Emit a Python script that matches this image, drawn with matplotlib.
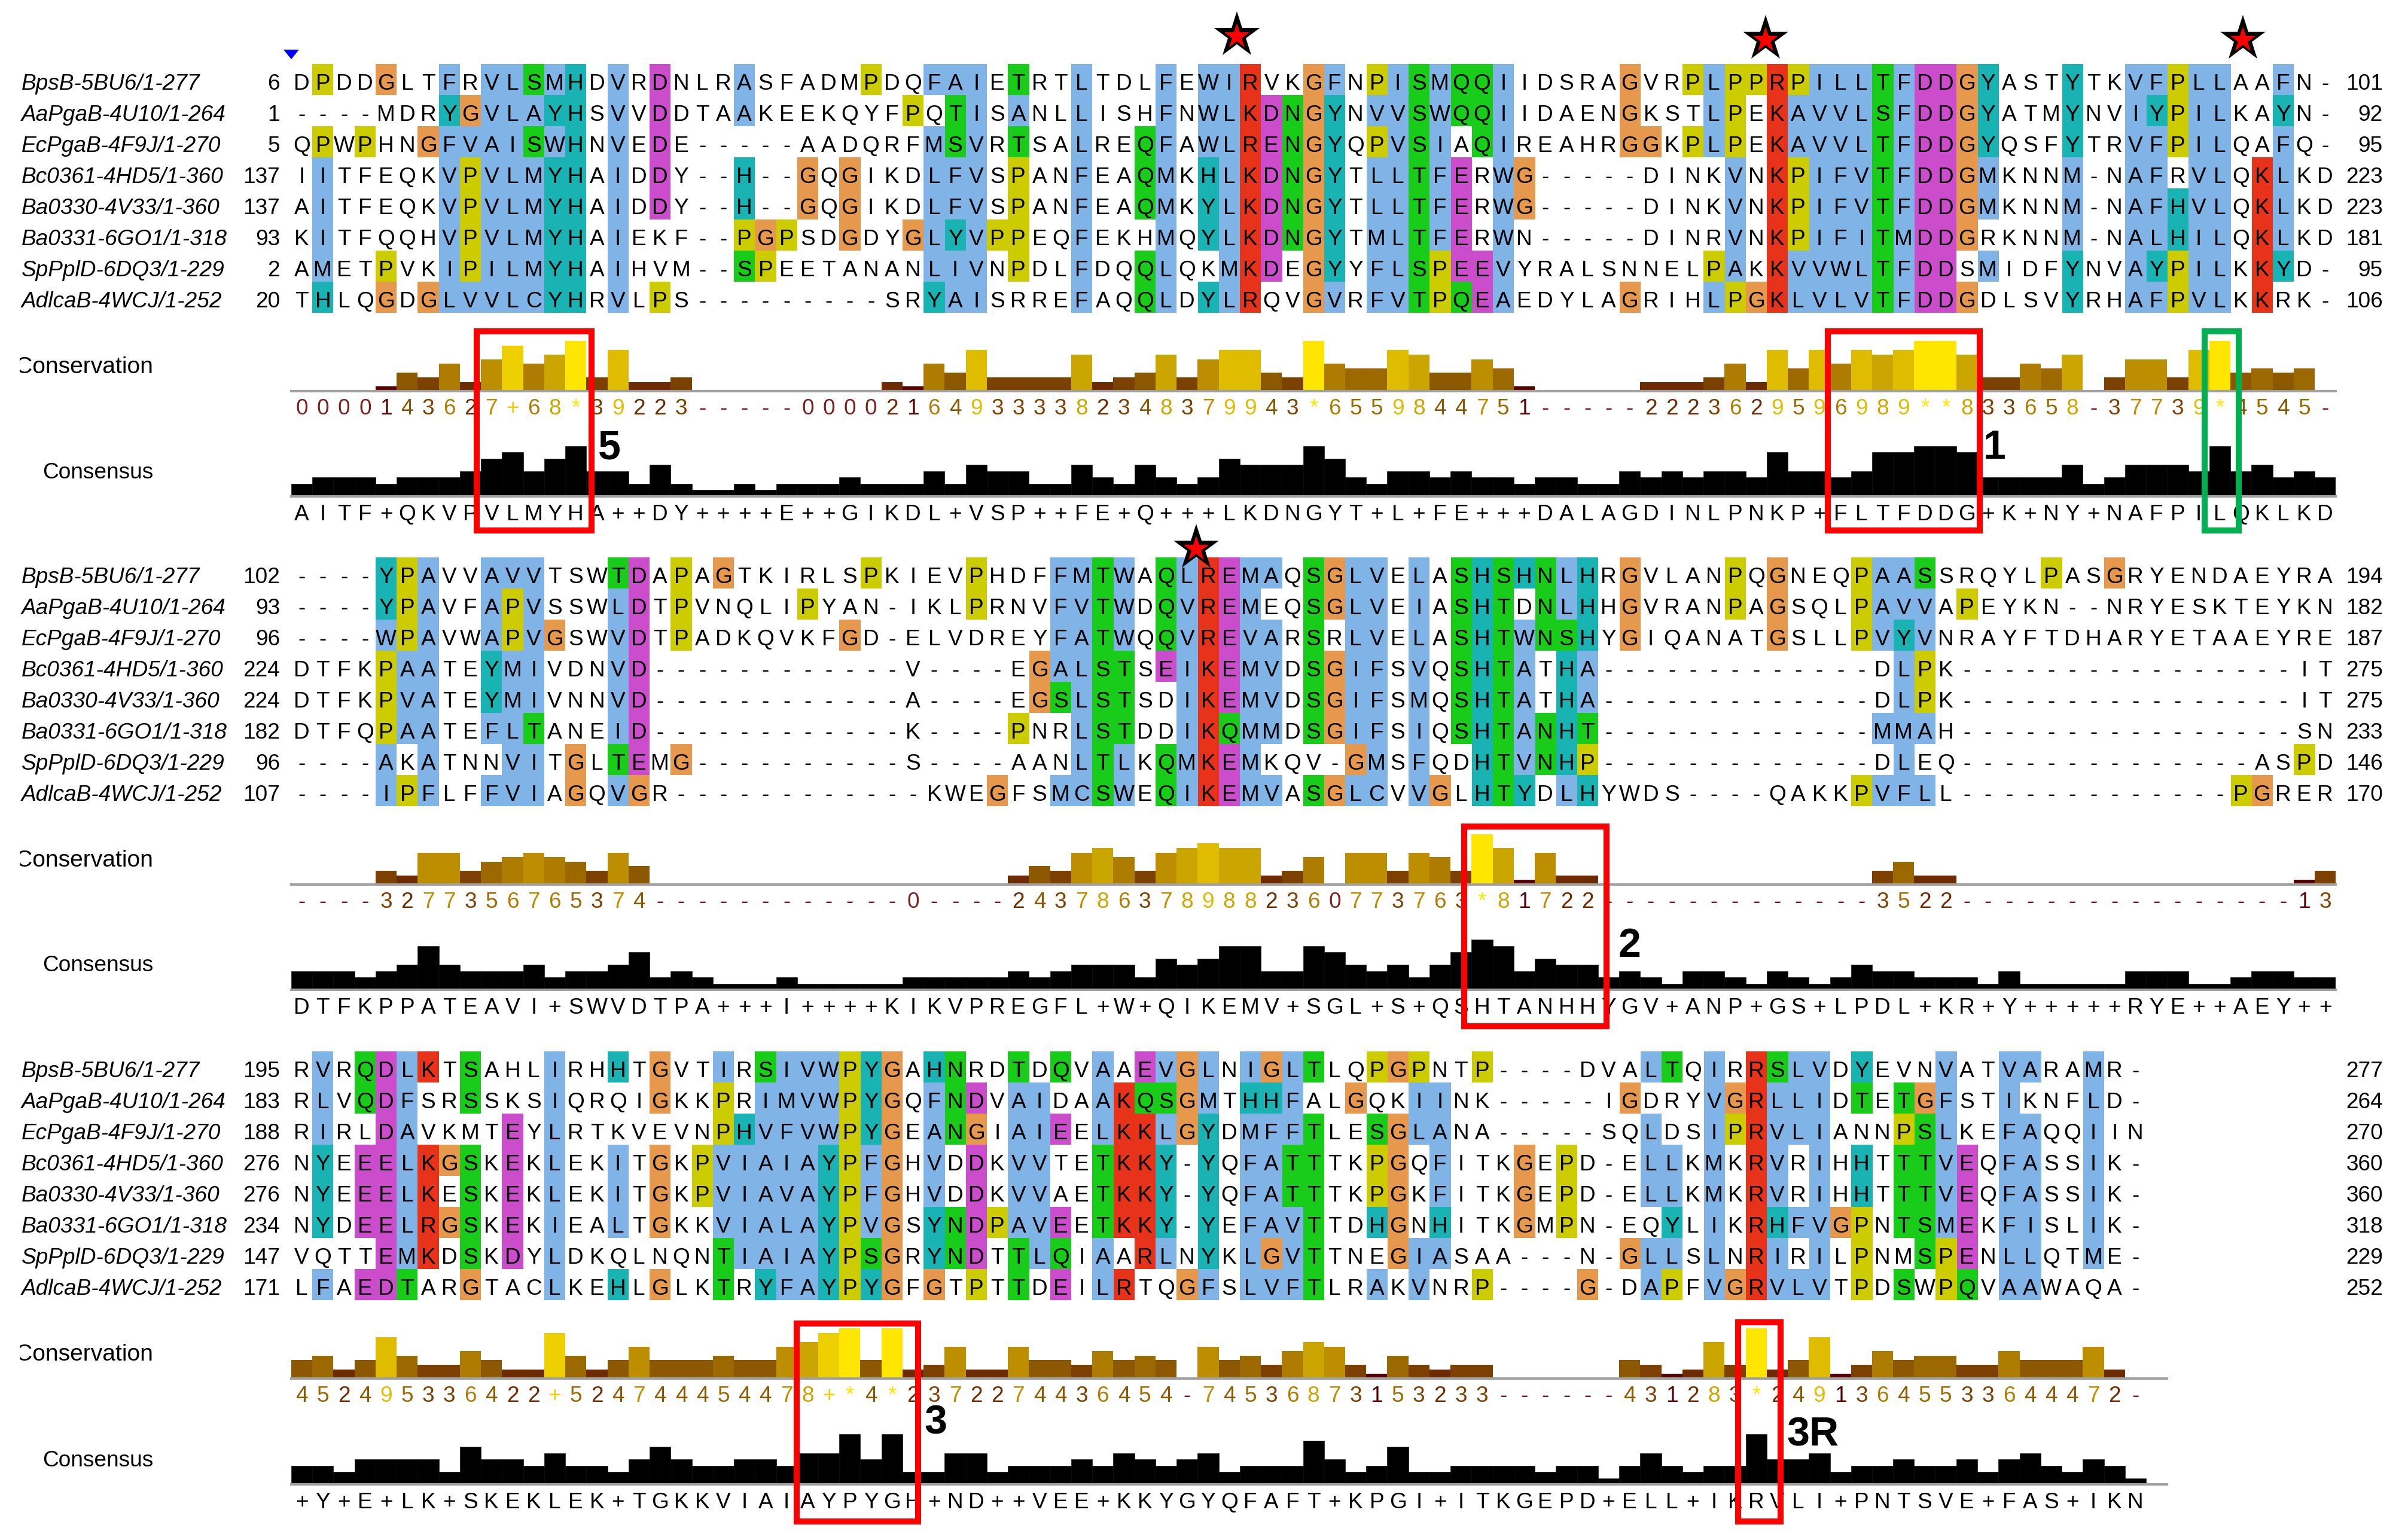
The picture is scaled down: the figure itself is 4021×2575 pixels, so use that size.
import matplotlib
matplotlib.use("Agg")
import matplotlib.pyplot as plt
from matplotlib.patches import Rectangle
import numpy as np

W, H = 4021, 2575

names = ["BpsB-5BU6/1-277", "AaPgaB-4U10/1-264", "EcPgaB-4F9J/1-270", "Bc0361-4HD5/1-360",
         "Ba0330-4V33/1-360", "Ba0331-6GO1/1-318", "SpPplD-6DQ3/1-229", "AdlcaB-4WCJ/1-252"]

# first alignment block
seqs_1 = [
    "DPDDGLTFRVLSMHDVRDNLRASFADMPDQFAIETRTLTDLFEWIRVKGFNPISMQQIIDSRAGVRPLPPRPILLTFDDGYASTYTKVFPLLAAFN-",
    "----MDRYGVLAYHSVVDDTAAKEEKQYFPQTISANLLISHFNWLKDNGYNVVSWQQIIDAENGKSTLPEKAVVLSFDDGYATMYNVIYPILKAYN-",
    "QPWPHNGFVAISWHNVEDE-----AADQRFMSVRTSALREQFAWLRENGYQPVSIAQIREAHRGGKPLPEKAVVLTFDDGYQSFYTRVFPILQAFQ-",
    "IITFEQKVPVLMYHAIDDY--H--GQGIKDLFVSPANFEAQMKHLKDNGYTLLTFERWG-----DINKVNKPIFVTFDDGMKNNM-NAFRVLQKLKD",
    "AITFEQKVPVLMYHAIDDY--H--GQGIKDLFVSPANFEAQMKYLKDNGYTLLTFERWG-----DINKVNKPIFVTFDDGMKNNM-NAFHVLQKLKD",
    "KITFQQHVPVLMYHAIEKF--PGPSDGDYGLYVPPEQFEKHMQYLKDNGYTMLTFERWN-----DINRVNKPIFITMDDGRKNNM-NALHILQKLKD",
    "AMETPVKIPILMYHAIHVM--SPEETANANLIVNPDLFDQQLQKMKDEGYYFLSPEEVYRALSNNELPAKKVVWLTFDDSMIDFYNVAYPILKKYD-",
    "THLQGDGLVVLCYHRVLPS---------SRYAISRREFAQQLDYLRQVGVRFVTPQEAEDYLAGRIHLPGKLVLVTFDDGDLSVYRHAFPVLKKRK-",
]
starts_1 = [6, 1, 5, 137, 137, 93, 2, 20]
ends_1 = [101, 92, 95, 223, 223, 181, 95, 106]
conservation_1 = "0000143627+68*39223-----000021649333382348379943*6559844751-----2223629596989**833658-37739*4545-"
consensus_1 = "AITF+QKVPVLMYHA++DY++++E++GIKDL+VSP++FE+Q+++LKDNGYT+L+FE+++DALAGDINLPNKP+FLTFDDG+K+NY+NAFPILQKLKD"

# second alignment block
seqs_2 = [
    "----YPAVVAVVTSWTDAPAGTKIRLSPKIEVPHDFFMTWAQLREMAQSGLVELASHSHNLHRGVLANPQGNEQPAASSRQYLPASGRYENDAEYRA",
    "----YPAVFAPVSSWLDTPVNQLIPYAN-IKLPRNVFVTWDQVREMEQSGLVEIASHTDNLHHGVRANPAGSQLPAVVAPEYKN--NRYESKTEYKN",
    "----WPAVWAPVGSWVDTPADKQVKFGD-ELVDREYFATWQQVREVARSRLVELASHTWNSHYGIQANATGSLLPVYVNRAYFTDHARYETAAEYRE",
    "DTFKPAATEYMIVDNVD------------V----EGALSTSEIKEMVDSGIFSVQSHTATHA-------------DLPK----------------IT",
    "DTFKPVATEYMIVNNVD------------A----EGSLSTSDIKEMVDSGIFSMQSHTATHA-------------DLPK----------------IT",
    "DTFQPAATEFLTANEID------------K----PNRLSTDDIKQMMDSGIFSIQSHTANHT-------------MMAH----------------SN",
    "----AKATNNVITGLTEMG----------S----AANLTLKQMKEMKQV-GMSFQDHTVNHP-------------DLEQ--------------ASPD",
    "----IPFLFFVIAGQVGR------------KWEGFSMCSWEQIKEMVASGLCVVGLHTYDLHYWDS----QAKKPVFLL-------------PGRER",
]
starts_2 = [102, 93, 96, 224, 224, 182, 96, 107]
ends_2 = [194, 182, 187, 275, 275, 233, 146, 170]
conservation_2 = "----3277356765374------------0----2437863789882360773763*81722-------------3522----------------13"
consensus_2 = "DTFKPPATEAVI+SWVDTPA+++I++++KIKVPREGFL+W+QIKEMV+SGL+S+QSHTANHHYGV+ANP+GS+LPDL+KR+Y+++++RYE++AEY++"

# third alignment block
seqs_3 = [
    "RVRQDLKTSAHLIRHHTGVTIRSIVWPYGAHNRDTDQVAAEVGLNIGLTLQPGPNTP----DVALTQIRRSLVDYEVNVATVARAMR-",
    "RLVQDFSRSSKSIQRQIGKKPRIMVWPYGQFNDVAIDAAKQSGMTHHFALGQKIINK-----IGDRYVGRLLIDTETGFSTIKNFLD-",
    "RIRLDAVKMTEYLRTKVEVNPHVFVWPYGEANGIAIEELKKLGYDMFFTLESGLANA-----SQLDSIPRVLIANNPSLKEFAQQIIN",
    "NYEEELKGSKEKLEKITGKPVIAIAYPFGHVDDKVVTETKKY-YQFATTTKPGQFITKGEPD-ELLKMKRVRIHHTTTVEQFASSIK-",
    "NYEEELKESKEKLEKITGKPVIAVAYPFGHVDDKVVAETKKY-YQFATTTKPGKFITKGEPD-ELLKMKRVRIHHTTTVEQFASSIK-",
    "NYDEELRGSKEKIEALTGKKVIALAYPVGSYNDPAVEETKKY-YEFAVTTDHGNHITKGMPN-EQYLIKRHFVGPNTSMEKFISLIK-",
    "VQTTEMKDSKDYLDKQLNQNTIAIAYPSGRYNDTTLQIAARLNYKLGVTTNEGIASAA---N-GLLSLNRIRILPNMSPENLLQTME-",
    "LFAEDTARGTACLKEHLGLKTRYFAYPYGFGTPTTDEILRTQGFSLVFTLRAKVNRP----G-DAPFVGRVLVTPDSWPQVAAWAQA-",
]
starts_3 = [195, 183, 188, 276, 276, 234, 147, 171]
ends_3 = [277, 264, 270, 360, 360, 318, 229, 252]
conservation_3 = "452495336422+524744454478+*4*2372274436454-74536873153233------431283*24913645533644472-"
consensus_3 = "+Y+E+LK+SKEKLEK+TGKKVIAIAYPYGH+ND++VEE+KKYGYQFAFT+KPGI+ITKGEPD+ELL+IKRVLI+PNTSVE+FAS+IKN"

blocks = [
    (seqs_1, starts_1, ends_1, conservation_1, consensus_1, 107, 654, 830),
    (seqs_2, starts_2, ends_2, conservation_2, consensus_2, 932, 1479, 1655),
    (seqs_3, starts_3, ends_3, conservation_3, consensus_3, 1758, 2305, 2482),
]

# sequence logic for the ClustalX style colours
BLUE, RED, GREEN = "#80b3e6", "#e6331a", "#1acc1a"
MAGENTA, ORANGE, YELLOW, CYAN = "#cc4dcc", "#e6994d", "#cccc00", "#1ab3b3"
HYDRO = "WLVIMAFCHPY"

CONS_COLOURS = ["#7a2020", "#5a0000", "#6e2a00", "#7c4000", "#8c5800", "#9c6800",
                "#ad7c00", "#bc8e00", "#cca600", "#dfbc00", "#eed000", "#ffe600"]

FONT = "Liberation Sans"
LETTER_PX = 37
CW = 35.24
X0 = 487
ROW = 52


def cell_colour(ch, col):
    def f(group):
        return sum(c in group for c in col) / len(col)

    def single(group):
        # any one of these residues alone above 85%
        return any(col.count(a) / len(col) > 0.85 for a in group)

    if ch == "G":
        return ORANGE
    if ch == "P":
        return YELLOW
    if ch in "AILMFWVC":
        return BLUE if f(HYDRO) > 0.6 else None
    if ch in "HY":
        return CYAN if f(HYDRO) > 0.6 or single("WYACPQFHILMV") else None
    if ch in "KR":
        return RED if f("KR") > 0.6 or single("KRQ") else None
    if ch == "N":
        return GREEN if f("N") > 0.5 or f("D") > 0.85 else None
    if ch == "D":
        return MAGENTA if f("KR") > 0.6 or single("KRQ") or f("ED") > 0.5 else None
    if ch == "E":
        return MAGENTA if f("KR") > 0.6 or f("QE") > 0.5 or f("ED") > 0.5 or single("EQD") else None
    if ch == "Q":
        return GREEN if f("KR") > 0.6 or f("QE") > 0.5 or single("QEKR") else None
    if ch in "ST":
        return GREEN if f(HYDRO) > 0.6 or f("TS") > 0.5 or single("ST") else None
    return None


def score(ch):
    if ch == "*":
        return 11
    if ch == "+":
        return 10
    if ch == "-":
        return 0
    return int(ch)


def px_axes(x0, y0, x1, y1):
    ax = fig.add_axes([x0 / W, 1 - y1 / H, (x1 - x0) / W, (y1 - y0) / H])
    ax.axis("off")
    return ax


def letter_row(string, baseline, colours=None):
    # one line of letters under a panel
    n = len(string)
    ax = px_axes(X0, baseline - 40, X0 + n * CW, baseline + 10)
    ax.set_xlim(0, n)
    ax.set_ylim(50, 0)
    for i, ch in enumerate(string):
        c = "black" if colours is None else colours[i]
        ax.text(i + 0.5, 40, ch, ha="center", va="baseline", color=c,
                fontsize=LETTER_PX * 0.72, family=FONT)


fig = plt.figure(figsize=(W / 100, H / 100), dpi=100, facecolor="white")

for seqs, starts, ends, conservation, consensus, top, cons_base, cs_base in blocks:
    n = len(seqs[0])
    cols = ["".join(s[j] for s in seqs) for j in range(n)]

    # coloured cells
    rgb = np.ones((8, n, 3))
    for r, s in enumerate(seqs):
        for j, ch in enumerate(s):
            c = cell_colour(ch, cols[j])
            if c:
                rgb[r, j] = matplotlib.colors.to_rgb(c)
    ax = px_axes(X0, top, X0 + n * CW, top + 8 * ROW)
    ax.imshow(rgb, extent=[0, n, 8, 0], aspect="auto", interpolation="nearest")
    for r, s in enumerate(seqs):
        for j, ch in enumerate(s):
            ax.text(j + 0.5, r + 0.83, ch, ha="center", va="baseline", color="black",
                    fontsize=LETTER_PX * 0.72, family=FONT)

    # conservation histogram
    scores = [score(ch) for ch in conservation]
    colours = [CONS_COLOURS[v] for v in scores]
    line_n = 89 if n == 88 else n
    ax = px_axes(X0, cons_base - 84, X0 + line_n * CW, cons_base)
    ax.set_xlim(0, line_n)
    ax.set_ylim(0, 11)
    ax.bar(np.arange(n) + 0.5, scores, width=1.0, color=colours, linewidth=0)
    ax.axhline(0, color="#a0a0a0", lw=3, clip_on=False)
    letter_row(conservation, cons_base + 40 - 1, colours)

    # consensus histogram, height is the count of the commonest residue
    counts = [max(col.count(a) for a in set(col) - {"-"}) if set(col) - {"-"} else 0 for col in cols]
    ax = px_axes(X0, cs_base - 84, X0 + line_n * CW, cs_base)
    ax.set_xlim(0, line_n)
    ax.set_ylim(0, 8)
    ax.bar(np.arange(n) + 0.5, counts, width=1.0, color="black", linewidth=0.4, edgecolor="black")
    ax.axhline(0, color="#a0a0a0", lw=3, clip_on=False)
    letter_row(consensus, cs_base + 40)

# overlay in pixel units for names, marks and boxes
over = fig.add_axes([0, 0, 1, 1], zorder=10)
over.set_xlim(0, W)
over.set_ylim(H, 0)
over.axis("off")
over.patch.set_alpha(0)

clip = Rectangle((33, 0), W, H, transform=over.transData)
for seqs, starts, ends, conservation, consensus, top, cons_base, cs_base in blocks:
    for r in range(8):
        base = top + (r + 0.83) * ROW
        over.text(36, base, names[r], ha="left", va="baseline", style="italic",
                  fontsize=LETTER_PX * 0.72, family=FONT)
        over.text(468, base, str(starts[r]), ha="right", va="baseline",
                  fontsize=LETTER_PX * 0.72, family=FONT)
        over.text(3984, base, str(ends[r]), ha="right", va="baseline",
                  fontsize=LETTER_PX * 0.72, family=FONT)
    t = over.text(256, cons_base - 40, "Conservation", ha="right", va="center",
                  fontsize=39 * 0.72, family=FONT)
    t.set_clip_on(True)
    t.set_clip_path(clip)
    over.text(256, cs_base - 40, "Consensus", ha="right", va="center",
              fontsize=LETTER_PX * 0.72, family=FONT)

# blue marker and red stars
over.fill([474, 500, 487], [83, 83, 99], color="#0000ff", lw=0)
for sx, sy in [(2068, 59), (2952, 65), (3750, 65), (2000, 916)]:
    over.plot([sx], [sy], marker="*", ms=58, mfc="black", mec="black", mew=0, ls="none")
    over.plot([sx], [sy + 2], marker="*", ms=32, mfc="#ff0000", mec="#ff0000", mew=0, ls="none")

# boxes round the motifs
red_boxes = [(797, 554, 989, 887), (3056, 554, 3310, 887), (2448, 1382, 2686, 1716),
             (1332, 2213, 1535, 2544), (2906, 2211, 2977, 2544)]
for x0, y0, x1, y1 in red_boxes:
    over.add_patch(Rectangle((x0, y0), x1 - x0, y1 - y0, fill=False, ec="#ff0000", lw=7.2))
over.add_patch(Rectangle((3686, 554), 57, 333, fill=False, ec="#00b050", lw=7.2))

for label, lx, ly in [("5", 1000, 767), ("1", 3316, 767), ("2", 2706, 1600),
                      ("3", 1545, 2398), ("3R", 2987, 2417)]:
    over.text(lx, ly, label, ha="left", va="baseline", fontweight="bold",
              fontsize=68 * 0.72, family=FONT)

fig.savefig("out.png", dpi=100)
